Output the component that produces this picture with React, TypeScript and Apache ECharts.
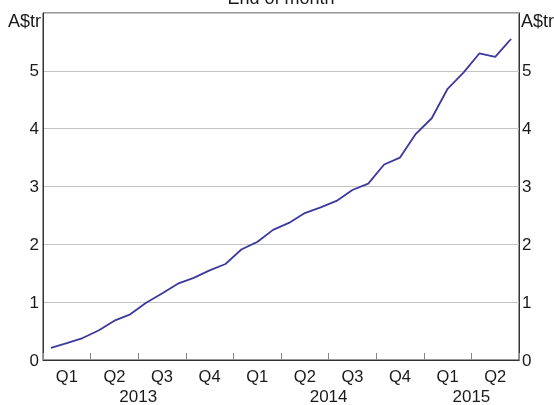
import React, { useEffect, useRef } from "react";
import * as echarts from "echarts";

const months: string[] = [
  "2013-01", "2013-02", "2013-03", "2013-04", "2013-05", "2013-06",
  "2013-07", "2013-08", "2013-09", "2013-10", "2013-11", "2013-12",
  "2014-01", "2014-02", "2014-03", "2014-04", "2014-05", "2014-06",
  "2014-07", "2014-08", "2014-09", "2014-10", "2014-11", "2014-12",
  "2015-01", "2015-02", "2015-03", "2015-04", "2015-05", "2015-06",
];
const values: number[] = [
  0.21, 0.29, 0.38, 0.51, 0.68, 0.79, 0.99, 1.15, 1.32, 1.42, 1.55, 1.66,
  1.91, 2.04, 2.25, 2.37, 2.54, 2.64, 2.75, 2.94, 3.05, 3.38, 3.5, 3.91,
  4.18, 4.69, 4.97, 5.3, 5.24, 5.55,
];
const quarterLabels: string[] = ["Q1", "Q2", "Q3", "Q4"];
const yTicks: number[] = [0, 1, 2, 3, 4, 5, 6];
const titleText = "End of month";
const unitText = "A$tr";

const FONT = "'Liberation Sans', Arial, sans-serif";
const TEXT = "#1a1a1a";

export default function App() {
  const ref = useRef<HTMLDivElement>(null);
  useEffect(() => {
    if (!ref.current) return;
    const chart = echarts.init(ref.current, undefined, { renderer: "svg" });

    const yearInfo: { year: string; center: number }[] = [];
    months.forEach((m, i) => {
      const y = m.slice(0, 4);
      const last = yearInfo[yearInfo.length - 1];
      if (!last || last.year !== y) yearInfo.push({ year: y, center: i });
    });
    yearInfo.forEach((yi, k) => {
      const start = yi.center;
      const end = k + 1 < yearInfo.length ? yearInfo[k + 1].center : months.length;
      yi.center = (start + end) / 2;
    });

    const option: any = {
      animation: false,
      grid: {
        left: 43,
        right: 35,
        top: 13,
        bottom: 42,
        show: true,
        borderColor: "#333",
        borderWidth: 1,
        backgroundColor: "transparent",
      },
      graphic: [
        {
          type: "text",
          x: 281,
          y: -2,
          style: {
            text: titleText,
            fontSize: 18,
            fontFamily: FONT,
            fill: TEXT,
            textAlign: "center",
            textVerticalAlign: "middle",
          },
        },
        {
          type: "text",
          x: 41,
          y: 21,
          style: {
            text: unitText,
            fontSize: 18,
            fontFamily: FONT,
            fill: TEXT,
            textAlign: "right",
            textVerticalAlign: "middle",
          },
        },
        {
          type: "text",
          x: 521,
          y: 21,
          style: {
            text: unitText,
            fontSize: 18,
            fontFamily: FONT,
            fill: TEXT,
            textAlign: "left",
            textVerticalAlign: "middle",
          },
        },
      ],
      xAxis: [
        {
          type: "category",
          data: months,
          boundaryGap: true,
          axisLine: { show: true, lineStyle: { color: "#333", width: 1 } },
          axisTick: {
            show: true,
            inside: true,
            length: 7,
            interval: 2,
            lineStyle: { color: "#888", width: 1 },
          },
          axisLabel: {
            interval: (idx: number) => idx % 3 === 1,
            formatter: (v: string) => {
              const mo = parseInt(v.slice(5, 7), 10);
              return quarterLabels[Math.floor((mo - 1) / 3)];
            },
            fontSize: 16.5,
            fontFamily: FONT,
            color: TEXT,
            margin: 7,
          },
          splitLine: { show: false },
        },
        {
          type: "value",
          position: "bottom",
          min: 0,
          max: months.length,
          interval: 1,
          axisLine: { show: false },
          axisTick: { show: false },
          splitLine: { show: false },
          axisLabel: {
            margin: 28,
            fontSize: 17,
            fontFamily: FONT,
            color: TEXT,
            showMinLabel: true,
            showMaxLabel: true,
            formatter: (v: number) => {
              const f = yearInfo.find((yi) => Math.abs(yi.center - v) < 0.01);
              return f ? f.year : "";
            },
          },
        },
      ],
      yAxis: [
        {
          type: "value",
          min: yTicks[0],
          max: yTicks[yTicks.length - 1],
          interval: 1,
          position: "left",
          axisLine: { show: true, lineStyle: { color: "#333" } },
          axisTick: { show: false },
          axisLabel: {
            fontSize: 17,
            fontFamily: FONT,
            color: TEXT,
            margin: 4,
            formatter: (v: number) => (v === 6 ? "" : String(v)),
          },
          splitLine: { show: true, lineStyle: { color: "#c4c4c4", width: 1 } },
        },
        {
          type: "value",
          min: yTicks[0],
          max: yTicks[yTicks.length - 1],
          interval: 1,
          position: "right",
          axisLine: { show: true, lineStyle: { color: "#333" } },
          axisTick: { show: false },
          axisLabel: {
            fontSize: 17,
            fontFamily: FONT,
            color: TEXT,
            margin: 3,
            formatter: (v: number) => (v === 6 ? "" : String(v)),
          },
          splitLine: { show: false },
        },
      ],
      series: [
        {
          type: "line",
          data: values,
          xAxisIndex: 0,
          yAxisIndex: 0,
          symbol: "none",
          lineStyle: { color: "#3b3a9c", width: 1.8 },
        },
      ],
    };
    chart.setOption(option);
    return () => chart.dispose();
  }, []);
  return (
    <div
      ref={ref}
      style={{ position: "fixed", left: 0, top: 0, width: 554, height: 405 }}
    />
  );
}
